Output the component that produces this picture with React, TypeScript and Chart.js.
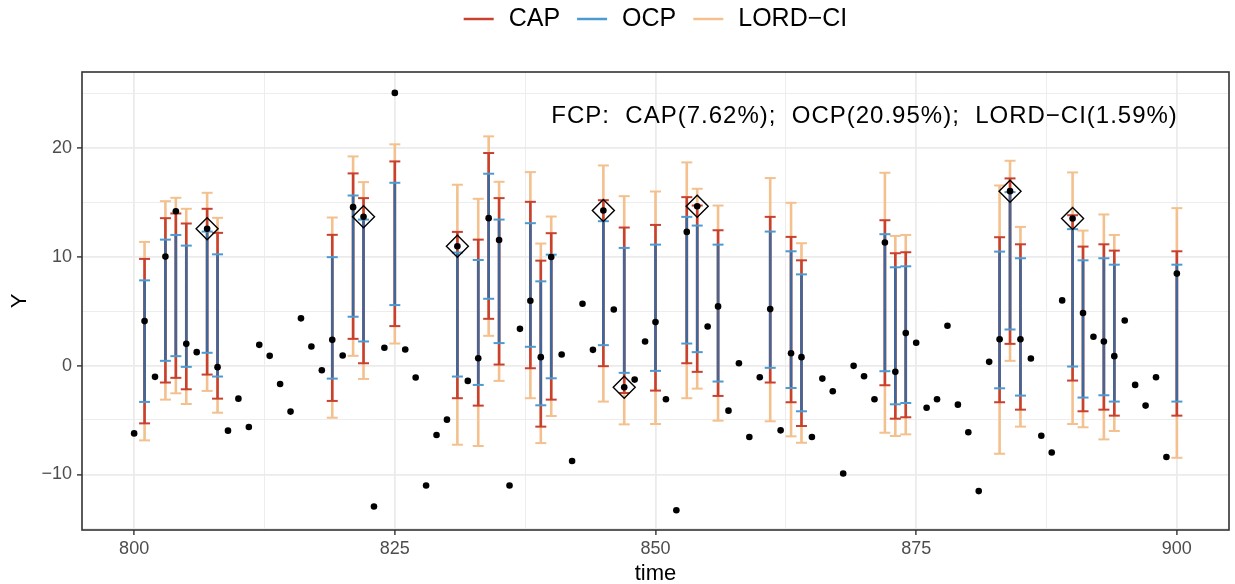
import React, { useEffect, useRef } from "react";
import { Chart, registerables } from "chart.js";

Chart.register(...registerables);

const FONT = "'Liberation Sans', Arial, Helvetica, sans-serif";

const times = [
  800, 801, 802, 803, 804, 805, 806, 807, 808, 809,
  810, 811, 812, 813, 814, 815, 816, 817, 818, 819,
  820, 821, 822, 823, 824, 825, 826, 827, 828, 829,
  830, 831, 832, 833, 834, 835, 836, 837, 838, 839,
  840, 841, 842, 843, 844, 845, 846, 847, 848, 849,
  850, 851, 852, 853, 854, 855, 856, 857, 858, 859,
  860, 861, 862, 863, 864, 865, 866, 867, 868, 869,
  870, 871, 872, 873, 874, 875, 876, 877, 878, 879,
  880, 881, 882, 883, 884, 885, 886, 887, 888, 889,
  890, 891, 892, 893, 894, 895, 896, 897, 898, 899,
  900,
];

const yValues = [
  -6.23, 4.08, -1.04, 10.0, 14.17, 1.99, 1.23, 12.55, -0.15, -5.98,
  -3.04, -5.64, 1.9, 0.89, -1.69, -4.23, 4.33, 1.75, -0.43, 2.36,
  0.92, 14.54, 13.65, -12.94, 1.63, 25.03, 1.47, -1.1, -11.01, -6.38,
  -4.97, 10.95, -1.41, 0.67, 13.53, 11.53, -11.01, 3.37, 5.95, 0.77,
  9.97, 1.01, -8.77, 5.67, 1.44, 14.23, 5.15, -1.99, -1.29, 2.21,
  3.99, -3.1, -13.28, 12.27, 14.63, 3.59, 5.43, -4.14, 0.21, -6.56,
  -1.07, 5.18, -5.95, 1.13, 0.77, -6.56, -1.2, -2.36, -9.91, -0.03,
  -0.98, -3.1, 11.29, -0.58, 2.98, 2.09, -3.87, -3.1, 3.65, -3.59,
  -6.13, -11.53, 0.34, 2.42, 16.01, 2.42, 0.64, -6.44, -7.98, 5.98,
  13.5, 4.82, 2.64, 2.21, 0.86, 4.14, -1.78, -3.68, -1.07, -8.4,
  8.44,
];

const ciTimes = [
  801, 803, 804, 805, 807, 808, 819, 821, 822, 825, 831, 833, 834, 835,
  838, 839, 840, 845, 847, 850, 853, 854, 856, 861, 863, 864, 872, 873,
  874, 883, 884, 885, 890, 891, 893, 894, 900,
];

const lordLower = [
  -6.87, -3.13, -2.55, -3.53, -2.33, -4.33, -4.79, 0.89, -1.23, 2.02, -7.27, -7.39, 2.73, -1.41,
  -3.0, -7.12, -4.63, -3.31, -5.4, -5.37, -3.0, -2.12, -5.06, -5.12, -6.5, -7.09, -6.17, -6.47,
  -6.32, -8.1, 0.43, -5.61, -5.37, -5.67, -6.78, -6.01, -8.47,
];
const lordUpper = [
  11.35, 15.09, 15.4, 14.39, 15.86, 13.56, 13.59, 19.2, 16.84, 20.31, 16.6, 15.31, 21.04, 16.87,
  17.76, 11.2, 13.68, 18.37, 15.55, 15.98, 18.65, 16.23, 14.69, 17.21, 14.94, 11.23, 17.7, 11.9,
  11.99, 16.53, 18.8, 12.73, 17.73, 12.39, 13.87, 11.99, 14.45,
];
const capLower = [
  -5.31, -1.56, -1.13, -2.18, -0.83, -3.04, -3.25, 2.45, 0.21, 3.62, -3.0, -3.68, 4.29, 0.09,
  -0.25, -5.61, -3.13, -0.06, -2.52, -2.3, 0.21, -0.58, -2.79, -1.56, -3.37, -5.55, -1.81, -4.88,
  -4.75, -3.37, 1.99, -4.05, -1.38, -4.2, -4.05, -4.6, -4.6,
];
const capUpper = [
  9.79, 13.53, 13.96, 13.04, 14.39, 12.18, 12.0, 17.64, 15.37, 18.74, 12.27, 11.56, 19.51, 15.37,
  15.03, 9.63, 12.15, 15.18, 12.67, 12.91, 15.46, 14.69, 12.42, 13.65, 11.81, 9.66, 13.34, 10.31,
  10.4, 11.78, 17.18, 11.13, 13.8, 10.92, 11.13, 10.55, 10.49,
];
const ocpLower = [
  -3.34, 0.43, 0.86, -0.12, 1.17, -1.01, -1.2, 4.48, 2.21, 5.55, -1.01, -1.78, 6.13, 2.06,
  1.72, -3.65, -1.17, 1.87, -0.67, -0.49, 2.02, 1.23, -1.47, -0.21, -2.06, -4.2, -0.52, -3.56,
  -3.44, -2.09, 3.31, -2.76, -0.09, -2.94, -2.73, -3.31, -3.31,
];
const ocpUpper = [
  7.82, 11.56, 11.99, 11.01, 12.3, 10.21, 9.95, 15.61, 13.4, 16.78, 10.37, 9.69, 17.61, 13.4,
  13.07, 7.73, 10.18, 13.25, 10.8, 11.1, 13.65, 12.85, 11.1, 12.3, 10.49, 8.37, 12.06, 9.02,
  9.11, 10.46, 15.92, 9.85, 12.52, 9.66, 9.85, 9.26, 9.26,
];

const flaggedTimes = [807, 822, 831, 845, 847, 854, 884, 890];

const legendLabels = ["CAP", "OCP", "LORD\u2212CI"];
const annotationText = "FCP:  CAP(7.62%);  OCP(20.95%);  LORD\u2212CI(1.59%)";
const xTickLabels = [800, 825, 850, 875, 900];
const yTickLabels = [-10, 0, 10, 20];

const CAP_COLOR = "#C8412E";
const OCP_COLOR = "#4A9BD3";
const OCP_LINE = "#41679A";
const LORD_COLOR = "#F3C08E";
const legendColors = [CAP_COLOR, OCP_COLOR, LORD_COLOR];

function segments(lo: number[], hi: number[]) {
  const out: any[] = [];
  ciTimes.forEach((t, i) => {
    out.push({ x: t, y: lo[i] }, { x: t, y: hi[i] }, { x: t, y: null });
  });
  return out;
}
function capPoints(lo: number[], hi: number[]) {
  const out: any[] = [];
  ciTimes.forEach((t, i) => {
    out.push({ x: t, y: lo[i] }, { x: t, y: hi[i] });
  });
  return out;
}

const decorPlugin = {
  id: "decor",
  afterDatasetsDraw(chart: any) {
    const { ctx, chartArea, scales } = chart;
    ctx.save();
    ctx.font = `24px ${FONT}`;
    (ctx as any).letterSpacing = "1px";
    ctx.fillStyle = "#000";
    ctx.textAlign = "right";
    ctx.textBaseline = "middle";
    ctx.fillText(annotationText, scales.x.getPixelForValue(900) + 1, scales.y.getPixelForValue(22.85));
    (ctx as any).letterSpacing = "0px";
    ctx.strokeStyle = "#333333";
    ctx.lineWidth = 1.6;
    ctx.strokeRect(chartArea.left, chartArea.top, chartArea.right - chartArea.left, chartArea.bottom - chartArea.top);
    ctx.restore();
  },
  afterDraw(chart: any) {
    const { ctx, chartArea } = chart;
    ctx.save();
    ctx.font = `25px ${FONT}`;
    ctx.textBaseline = "middle";
    ctx.textAlign = "left";
    const keyW = 30;
    const gapKT = 15;
    const gapItems = 17;
    const widths = legendLabels.map((l) => ctx.measureText(l).width);
    let total = 0;
    widths.forEach((w, i) => {
      total += keyW + gapKT + w + (i < widths.length - 1 ? gapItems : 0);
    });
    let x = (chartArea.left + chartArea.right) / 2 - total / 2;
    const y = 19;
    legendLabels.forEach((label, i) => {
      ctx.strokeStyle = legendColors[i];
      ctx.lineWidth = 2.5;
      ctx.beginPath();
      ctx.moveTo(x, y);
      ctx.lineTo(x + keyW, y);
      ctx.stroke();
      ctx.fillStyle = "#000";
      ctx.fillText(label, x + keyW + gapKT, y);
      x += keyW + gapKT + widths[i] + gapItems;
    });
    ctx.restore();
  },
};

export default function App() {
  const ref = useRef<HTMLCanvasElement>(null);
  useEffect(() => {
    const canvas = ref.current;
    if (!canvas) return;
    const flaggedPoints = flaggedTimes.map((t) => ({ x: t, y: yValues[times.indexOf(t)] }));
    const obsPoints = times.map((t, i) => ({ x: t, y: yValues[i] }));
    const lineDs = (label: string, data: any[], color: string, order: number) => ({
      label,
      data,
      showLine: true,
      spanGaps: false,
      borderColor: color,
      borderWidth: 2.6,
      pointRadius: 0,
      order,
    });
    const capDs = (label: string, data: any[], color: string, order: number) => ({
      label,
      data,
      showLine: false,
      pointStyle: "line",
      pointRadius: 5.5,
      pointBorderWidth: 2,
      pointBorderColor: color,
      borderColor: color,
      backgroundColor: color,
      order,
    });
    const chart = new Chart(canvas, {
      type: "scatter",
      data: {
        datasets: [
          {
            label: "Y",
            data: obsPoints,
            pointRadius: 3.3,
            pointBackgroundColor: "#000",
            pointBorderWidth: 0,
            order: 0,
          } as any,
          {
            label: "flagged",
            data: flaggedPoints,
            pointStyle: "rectRot",
            pointRadius: 11,
            pointBorderWidth: 1.4,
            pointBorderColor: "#000",
            pointBackgroundColor: "rgba(0,0,0,0)",
            order: 1,
          },
          capDs("OCP caps", capPoints(ocpLower, ocpUpper), OCP_COLOR, 2),
          lineDs("OCP", segments(ocpLower, ocpUpper), OCP_LINE, 3),
          capDs("CAP caps", capPoints(capLower, capUpper), CAP_COLOR, 4),
          lineDs("CAP", segments(capLower, capUpper), CAP_COLOR, 5),
          capDs("LORD caps", capPoints(lordLower, lordUpper), LORD_COLOR, 6),
          lineDs("LORD-CI", segments(lordLower, lordUpper), LORD_COLOR, 7),
        ] as any,
      },
      options: {
        animation: false,
        responsive: false,
        devicePixelRatio: 1,
        events: [],
        layout: { autoPadding: false, padding: { left: 0, right: 6, top: 72, bottom: 0 } },
        plugins: {
          legend: { display: false },
          tooltip: { enabled: false },
        },
        scales: {
          x: {
            type: "linear",
            min: 795,
            max: 905,
            afterFit: (s: any) => {
              s.height = 54;
            },
            border: { display: false },
            grid: {
              color: "#EBEBEB",
              lineWidth: (c: any) => (c.tick && xTickLabels.includes(c.tick.value) ? 1.8 : 0.9),
              tickColor: (c: any) => (c.tick && xTickLabels.includes(c.tick.value) ? "#333333" : "rgba(0,0,0,0)"),
              tickLength: 5,
              tickWidth: 1.4,
            },
            ticks: {
              stepSize: 12.5,
              includeBounds: false,
              autoSkip: false,
              maxRotation: 0,
              padding: 3,
              color: "#4D4D4D",
              font: { family: FONT, size: 18 },
              callback: (v: any) => (xTickLabels.includes(Number(v)) ? String(v) : ""),
            },
            title: {
              display: true,
              text: "time",
              color: "#000",
              font: { family: FONT, size: 22 },
              padding: { top: 0, bottom: -3 },
            },
          },
          y: {
            type: "linear",
            min: -15.1,
            max: 26.95,
            afterFit: (s: any) => {
              s.width = 82;
            },
            border: { display: false },
            grid: {
              color: "#EBEBEB",
              lineWidth: (c: any) => (c.tick && yTickLabels.includes(c.tick.value) ? 1.8 : 0.9),
              tickColor: (c: any) => (c.tick && yTickLabels.includes(c.tick.value) ? "#333333" : "rgba(0,0,0,0)"),
              tickLength: 5,
              tickWidth: 1.4,
            },
            ticks: {
              stepSize: 5,
              includeBounds: false,
              autoSkip: false,
              padding: 5,
              color: "#4D4D4D",
              font: { family: FONT, size: 18 },
              callback: (v: any) =>
                yTickLabels.includes(Number(v)) ? (Number(v) < 0 ? "\u2212" + Math.abs(Number(v)) : String(v)) : "",
            },
            title: {
              display: true,
              text: "Y",
              color: "#000",
              font: { family: FONT, size: 22 },
              padding: { top: 7, bottom: 0 },
            },
          },
        },
      } as any,
      plugins: [decorPlugin],
    });
    return () => chart.destroy();
  }, []);
  return (
    <div style={{ position: "fixed", left: 0, top: 0, width: 1235, height: 584, background: "#fff" }}>
      <canvas ref={ref} width={1235} height={584} style={{ display: "block", width: 1235, height: 584 }} />
    </div>
  );
}
